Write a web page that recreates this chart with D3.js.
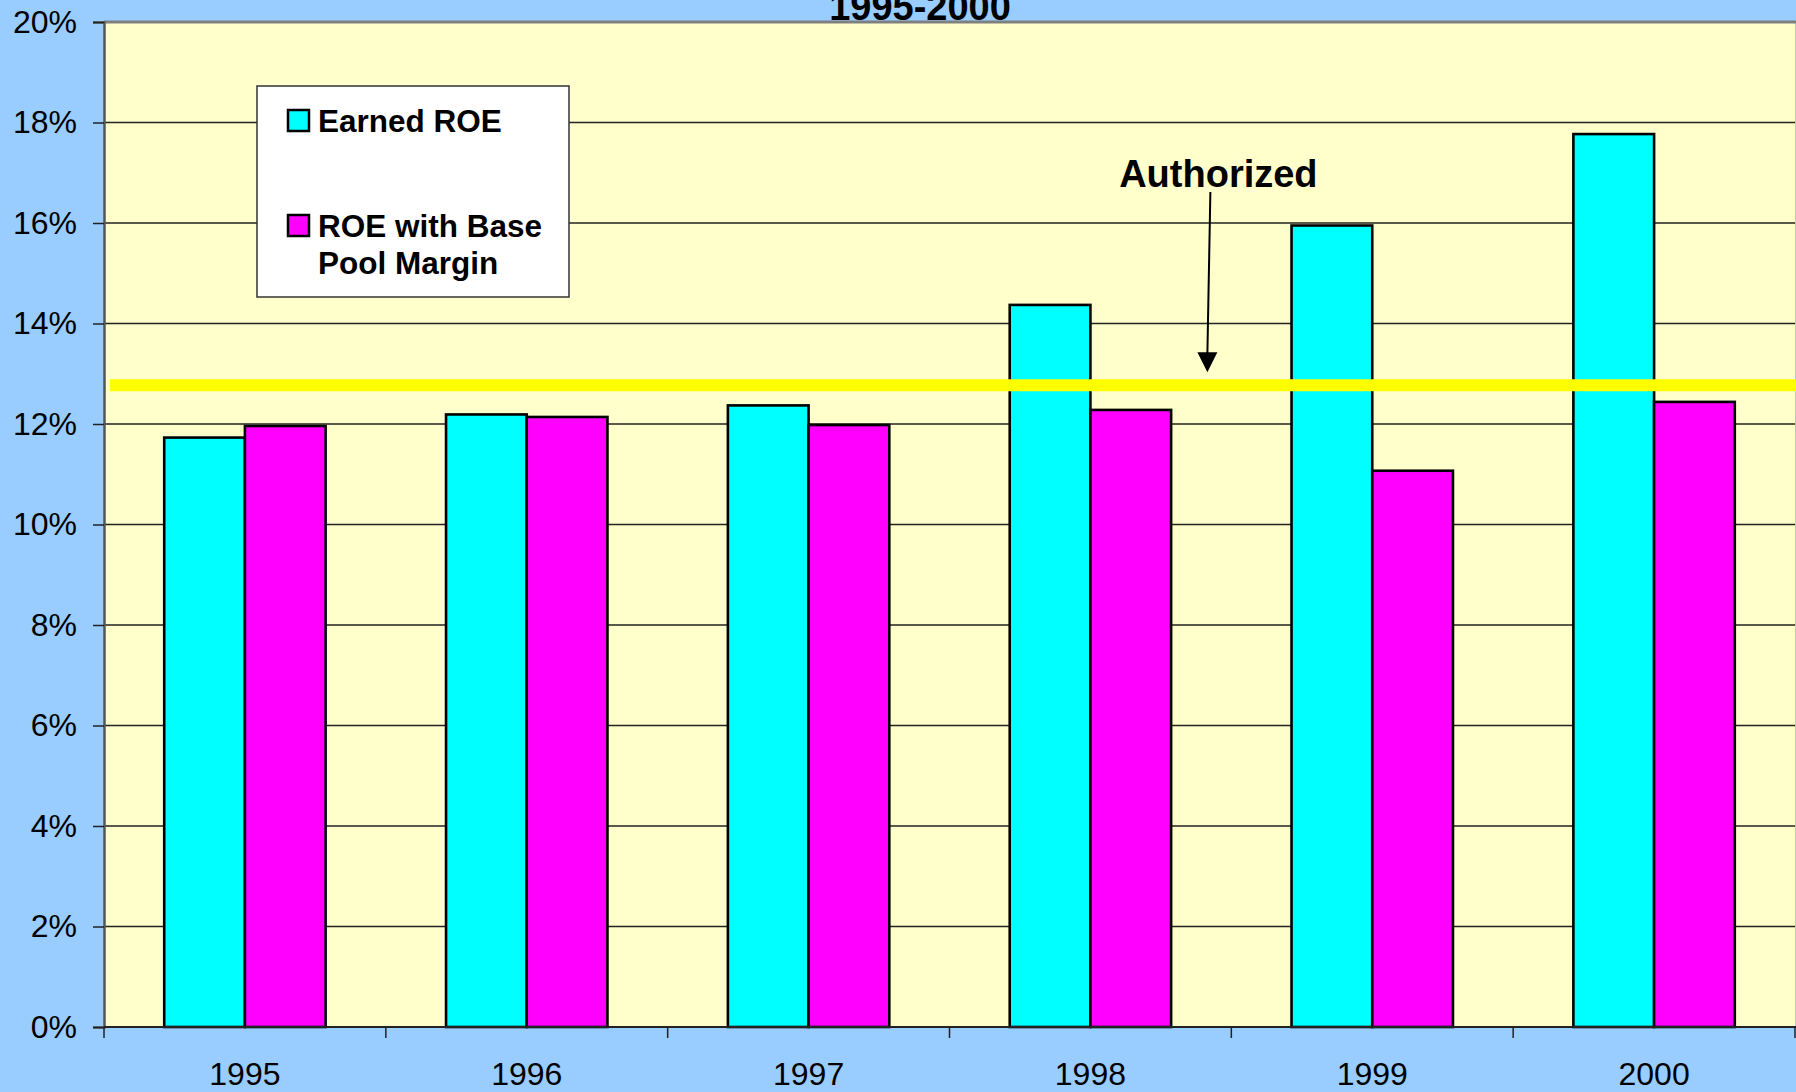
<!DOCTYPE html>
<html>
<head>
<meta charset="utf-8">
<script src="https://cdn.jsdelivr.net/npm/d3@7"></script>
<style>
  html, body { margin: 0; padding: 0; background: #99CCFF; }
  svg { display: block; font-family: "Liberation Sans", Arial, sans-serif; }
</style>
</head>
<body>
<div id="chart"></div>
<script>
// Chart data
const years = ["1995", "1996", "1997", "1998", "1999", "2000"];
const seriesNames = ["Earned ROE", "ROE with Base Pool Margin"];
const earnedRoe = [11.73, 12.19, 12.37, 14.37, 15.95, 17.77];
const roeBasePool = [11.96, 12.14, 11.98, 12.28, 11.07, 12.44];
const authorizedRoe = 12.77;
const yTicks = [0, 2, 4, 6, 8, 10, 12, 14, 16, 18, 20];
const colors = ["#00FFFF", "#FF00FF"];

const width = 1796;
const height = 1092;
const margin = { top: 22, right: 1, bottom: 65, left: 104 };

const svg = d3.select("#chart")
    .append("svg")
    .attr("width", width)
    .attr("height", height);

svg.append("rect")
    .attr("width", width)
    .attr("height", height)
    .attr("fill", "#99CCFF");

// Title (partly cut off at the top, like the original)
svg.append("text")
    .attr("x", 920)
    .attr("y", 20)
    .attr("text-anchor", "middle")
    .style("font-size", "38px")
    .style("font-weight", "bold")
    .text("1995-2000");

// Scales
const x0 = d3.scaleBand()
    .domain(years)
    .range([margin.left, width - margin.right])
    .padding(0);

const x1 = d3.scaleBand()
    .domain(seriesNames)
    .range([0, x0.bandwidth()])
    .paddingInner(0)
    .paddingOuter(0.746);

const y = d3.scaleLinear()
    .domain([0, 20])
    .range([height - margin.bottom, margin.top]);

// Plot background
svg.append("rect")
    .attr("x", margin.left)
    .attr("y", margin.top)
    .attr("width", width - margin.right - margin.left)
    .attr("height", y(0) - margin.top)
    .attr("fill", "#FFFFCC");

// Gridlines
svg.append("g")
    .selectAll("line")
    .data(yTicks.filter(d => d > 0 && d < 20))
    .enter()
    .append("line")
    .attr("x1", margin.left)
    .attr("x2", width - margin.right)
    .attr("y1", d => y(d))
    .attr("y2", d => y(d))
    .attr("stroke", "#222")
    .attr("stroke-width", 1.5);

// Top border of plot area
svg.append("line")
    .attr("x1", margin.left)
    .attr("x2", width)
    .attr("y1", y(20))
    .attr("y2", y(20))
    .attr("stroke", "#808080")
    .attr("stroke-width", 3);

// Bars
const rows = years.map((yr, i) => ({ year: yr, values: [earnedRoe[i], roeBasePool[i]] }));

svg.append("g")
    .selectAll("g")
    .data(rows)
    .enter()
    .append("g")
    .attr("transform", d => `translate(${x0(d.year)},0)`)
    .selectAll("rect")
    .data(d => d.values.map((v, j) => ({ key: seriesNames[j], value: v, color: colors[j] })))
    .enter()
    .append("rect")
    .attr("x", d => x1(d.key))
    .attr("y", d => y(d.value))
    .attr("width", x1.bandwidth())
    .attr("height", d => y(0) - y(d.value))
    .attr("fill", d => d.color)
    .attr("stroke", "#000")
    .attr("stroke-width", 2.6);

// Authorized ROE line
svg.append("line")
    .attr("x1", margin.left + 6)
    .attr("x2", width)
    .attr("y1", y(authorizedRoe))
    .attr("y2", y(authorizedRoe))
    .attr("stroke", "#FFFF00")
    .attr("stroke-width", 12);

// Axes
const yAxis = d3.axisLeft(y)
    .tickValues(yTicks)
    .tickFormat(d => d + "%")
    .tickSize(11)
    .tickPadding(16);

const gy = svg.append("g")
    .attr("transform", `translate(${margin.left},0)`)
    .call(yAxis);
gy.select(".domain").attr("stroke", "#555").attr("stroke-width", 2.5);
gy.selectAll(".tick line").attr("stroke", "#222").attr("stroke-width", 1.5);
gy.selectAll(".tick text")
    .style("font-size", "32px")
    .attr("fill", "#000")
    .attr("font-family", "Liberation Sans, Arial, sans-serif");

const xTickScale = d3.scaleLinear()
    .domain([0, years.length])
    .range([margin.left, width - margin.right]);

const xAxisG = svg.append("g")
    .attr("transform", `translate(0,${y(0)})`);

xAxisG.append("line")
    .attr("x1", margin.left)
    .attr("x2", width)
    .attr("stroke", "#222")
    .attr("stroke-width", 2);

xAxisG.selectAll(".xtick")
    .data(d3.range(years.length + 1))
    .enter()
    .append("line")
    .attr("class", "xtick")
    .attr("x1", d => xTickScale(d))
    .attr("x2", d => xTickScale(d))
    .attr("y1", 0)
    .attr("y2", 11)
    .attr("stroke", "#222")
    .attr("stroke-width", 1.5);

xAxisG.selectAll(".xlabel")
    .data(years)
    .enter()
    .append("text")
    .attr("class", "xlabel")
    .attr("x", d => x0(d) + x0.bandwidth() / 2)
    .attr("y", 58)
    .attr("text-anchor", "middle")
    .style("font-size", "32px")
    .text(d => d);

// Legend
const legend = svg.append("g")
    .attr("transform", "translate(257,86)");

legend.append("rect")
    .attr("width", 312)
    .attr("height", 211)
    .attr("fill", "#FFFFFF")
    .attr("stroke", "#333")
    .attr("stroke-width", 1.5);

const legendItems = [
    { lines: ["Earned ROE"], color: colors[0], top: 24 },
    { lines: ["ROE with Base", "Pool Margin"], color: colors[1], top: 129 }
];

legendItems.forEach(item => {
    legend.append("rect")
        .attr("x", 31)
        .attr("y", item.top)
        .attr("width", 21)
        .attr("height", 21)
        .attr("fill", item.color)
        .attr("stroke", "#000")
        .attr("stroke-width", 2.5);
    item.lines.forEach((ln, k) => {
        legend.append("text")
            .attr("x", 61)
            .attr("y", item.top + 22 + k * 37)
            .style("font-size", "31.5px")
            .style("font-weight", "bold")
            .text(ln);
    });
});

// Authorized annotation
const arrowX = x0("1998") + x0.bandwidth() * 0.915;
const arrowTip = y(authorizedRoe) - 13;

svg.append("text")
    .attr("x", arrowX + 11)
    .attr("y", 187)
    .attr("text-anchor", "middle")
    .style("font-size", "38px")
    .style("font-weight", "bold")
    .text("Authorized");

svg.append("line")
    .attr("x1", arrowX + 3)
    .attr("y1", 192)
    .attr("x2", arrowX)
    .attr("y2", arrowTip - 18)
    .attr("stroke", "#000")
    .attr("stroke-width", 2);

svg.append("path")
    .attr("d", `M${arrowX - 10},${arrowTip - 20} L${arrowX + 10},${arrowTip - 20} L${arrowX},${arrowTip} Z`)
    .attr("fill", "#000");
</script>
</body>
</html>
